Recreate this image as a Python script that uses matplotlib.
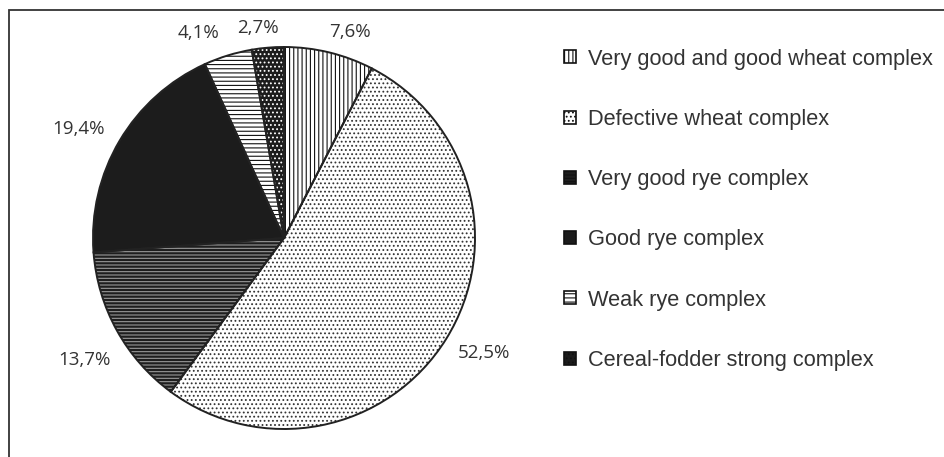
import numpy as np
import matplotlib.pyplot as plt
from matplotlib.patches import Patch, Rectangle

categories = ["Very good and good wheat complex", "Defective wheat complex",
              "Very good rye complex", "Good rye complex", "Weak rye complex",
              "Cereal-fodder strong complex"]
shares = [7.6, 52.5, 13.7, 19.4, 4.1, 2.7]
pct_labels = ["7,6%", "52,5%", "13,7%", "19,4%", "4,1%", "2,7%"]

# look of each wedge: face, hatch, hatch colour
faces = ["white", "white", "#1e1e1e", "#1c1c1c", "white", "#1c1c1c"]
hatches = ["||||", "....", "-----", None, "----", "...."]
hatch_cols = ["#111111", "#333333", "#9a9a9a", "#1c1c1c", "#111111", "white"]
# label placement tweaks (radius factor, angle nudge in degrees)
lab_r = [1.13, 1.21, 1.225, 1.22, 1.16, 1.11]
lab_da = [-4, 2, 2.5, 2.6, 5.5, 2.1]

plt.rcParams['hatch.linewidth'] = 0.8
fig = plt.figure(figsize=(9.44, 4.57), dpi=100)
W, H = 944, 457
cx, cy, r = 284, 238, 191
ax = fig.add_axes([(cx - r) / W, (H - cy - r) / H, 2 * r / W, 2 * r / H])

wedges, _ = ax.pie(shares, startangle=90, counterclock=False,
                   wedgeprops=dict(linewidth=0))
for w, fc, h, hc in zip(wedges, faces, hatches, hatch_cols):
    w.set_facecolor(fc)
    w.set_edgecolor(hc)
    w.set_hatch(h)

outline, _ = ax.pie(shares, startangle=90, counterclock=False,
                    wedgeprops=dict(fill=False, edgecolor="#222222", linewidth=1.4))

for w, txt, rf, da in zip(wedges, pct_labels, lab_r, lab_da):
    mid = np.deg2rad((w.theta1 + w.theta2) / 2 + da)
    ax.text(rf * np.cos(mid), rf * np.sin(mid), txt, ha="center", va="center",
            fontsize=13.5, color="#333333", family="Open Sans")

ax.set_xlim(-1, 1)
ax.set_ylim(-1, 1)
ax.set_aspect("equal")
ax.axis("off")

handles = [Patch(facecolor=fc, edgecolor="#111111", hatch=h, linewidth=1.2)
           for fc, h in zip(faces, hatches)]
fig.legend(handles, categories, loc="upper left",
           bbox_to_anchor=(544 / W, 1 - 29 / H), frameon=False,
           handlelength=0.55, handleheight=0.55, handletextpad=0.55,
           labelspacing=1.80, prop=dict(family="Liberation Sans", size=15.7),
           labelcolor="#333333")

# outer frame (only top and left edges show in the crop)
fig.add_artist(Rectangle((9 / W, -0.1), 1.2, 1 - 10 / H + 0.1,
                         transform=fig.transFigure, fill=False,
                         edgecolor="#333333", linewidth=1.3))

fig.savefig("out.png", dpi=100)
